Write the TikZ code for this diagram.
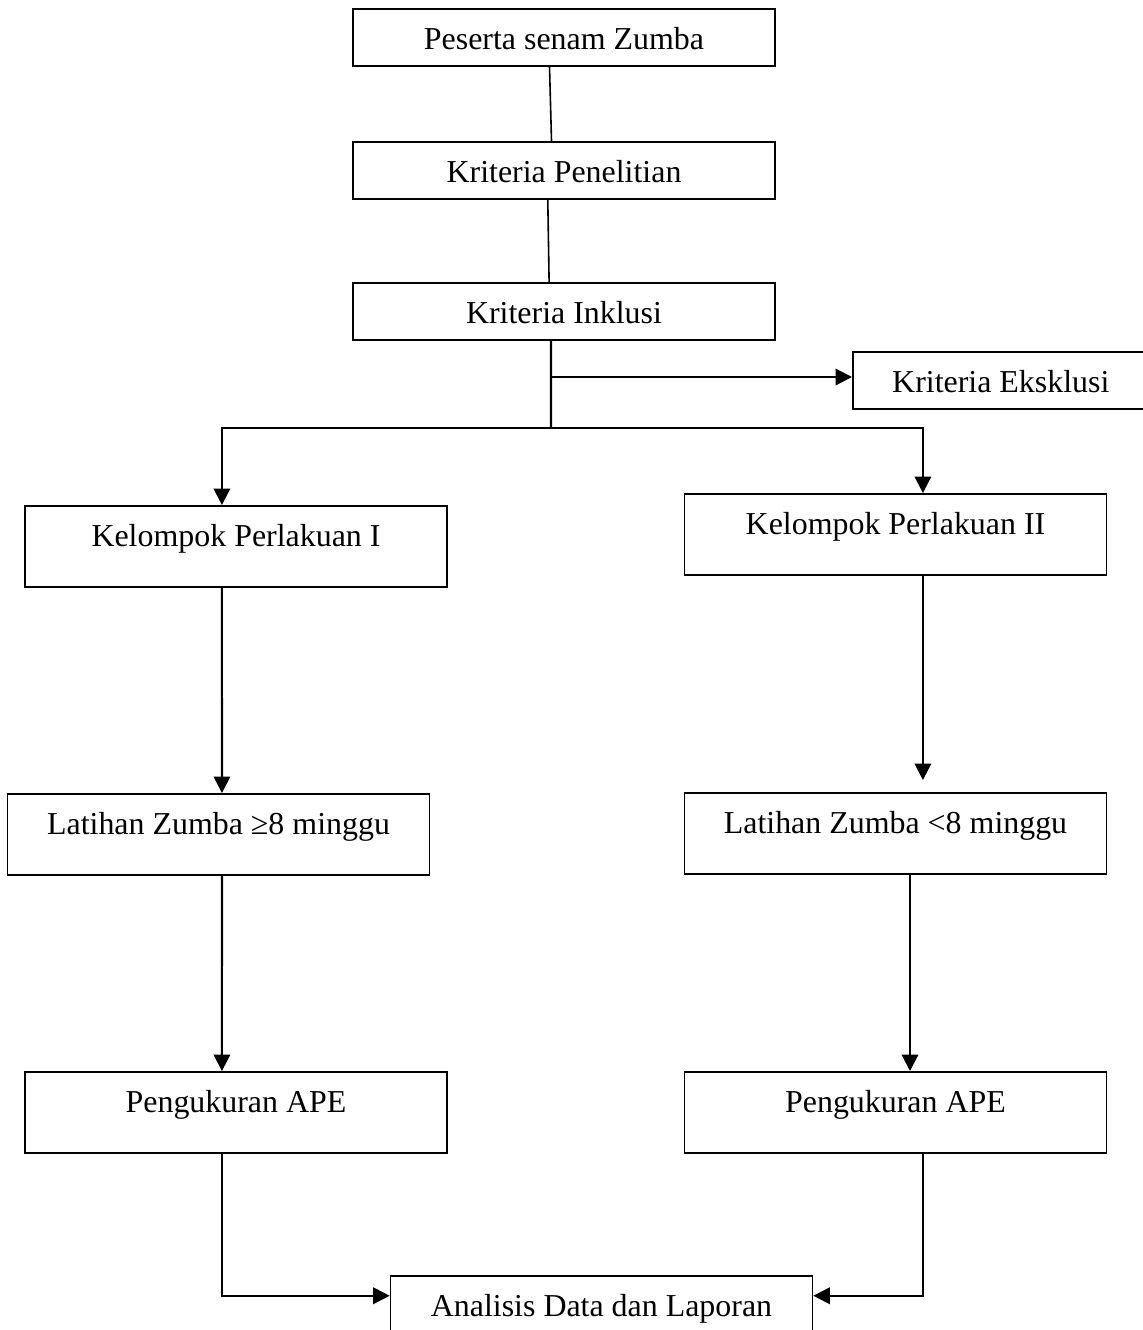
\documentclass[tikz,border=0pt]{standalone}
\usepackage{fontspec}
\setmainfont{Liberation Serif}
\usetikzlibrary{arrows.meta}
\tikzstyle{stage} = [rectangle, draw, semithick, anchor=north, minimum width=158.7pt, inner ysep=3pt, text height=12.4pt, text depth=3pt, text centered, font=\fontsize{12}{14}\selectfont]
\tikzstyle{group} = [stage, text depth=12.1pt]
\tikzstyle{link} = [semithick]
\tikzstyle{arrow} = [thick,-{Triangle[length=6.2pt,width=6.2pt]}]

\begin{document}
\begin{tikzpicture}[x=0.376pt, y=-0.376pt]
               \useasboundingbox (0,0) rectangle (1142,1330);
               \node [stage] at (564,8) (peserta) {Peserta senam Zumba};
               \node [stage] at (564,141) (penelitian) {Kriteria Penelitian};
               \node [stage] at (564,282) (inklusi) {Kriteria Inklusi};
               \node [stage, anchor=north west, minimum width=111.3pt] at (852,351) (eksklusi) {Kriteria Eksklusi};
               \node [group] at (236,505) (kp1) {Kelompok Perlakuan I};
               \node [group] at (895.5,493) (kp2) {Kelompok Perlakuan II};
               \node [group] at (218.5,793) (lat1) {Latihan Zumba ≥8 minggu};
               \node [group] at (895.5,792) (lat2) {Latihan Zumba <8 minggu};
               \node [group] at (236,1071) (ape1) {Pengukuran APE};
               \node [group] at (895.5,1071) (ape2) {Pengukuran APE};
               \node [stage] at (601.5,1275) (analisis) {Analisis Data dan Laporan};
               \coordinate (branch) at (551,377);
               \coordinate (split) at (551,428);
               \draw [link] ([xshift=-5.45pt]peserta.south) -- ([xshift=-4.7pt]penelitian.north);
               \draw [link] ([xshift=-6.1pt]penelitian.south) -- ([xshift=-5.6pt]inklusi.north);
               \draw [thick] ([xshift=-4.9pt]inklusi.south) -- (split);
               \draw [arrow] (branch) -- (branch -| eksklusi.west);
               \draw [arrow] (split) -| ([xshift=-5.3pt]kp1.north);
               \draw [arrow] (split) -| ([xshift=10.3pt]kp2.north);
               \draw [arrow] ([xshift=-5.3pt]kp1.south) -- ([xshift=1.3pt]lat1.north);
               \draw [arrow, shorten >=4.5pt] ([xshift=10.3pt]kp2.south) -- ([xshift=10.3pt]lat2.north);
               \draw [arrow] ([xshift=1.3pt]lat1.south) -- ([xshift=-5.3pt]ape1.north);
               \draw [arrow] ([xshift=5.45pt]lat2.south) -- ([xshift=5.45pt]ape2.north);
               \draw [arrow] ([xshift=-5.3pt]ape1.south) |- ([yshift=3.2pt]analisis.west);
               \draw [arrow] ([xshift=10.3pt]ape2.south) |- ([yshift=3.2pt]analisis.east);
               \end{tikzpicture}
\end{document}
